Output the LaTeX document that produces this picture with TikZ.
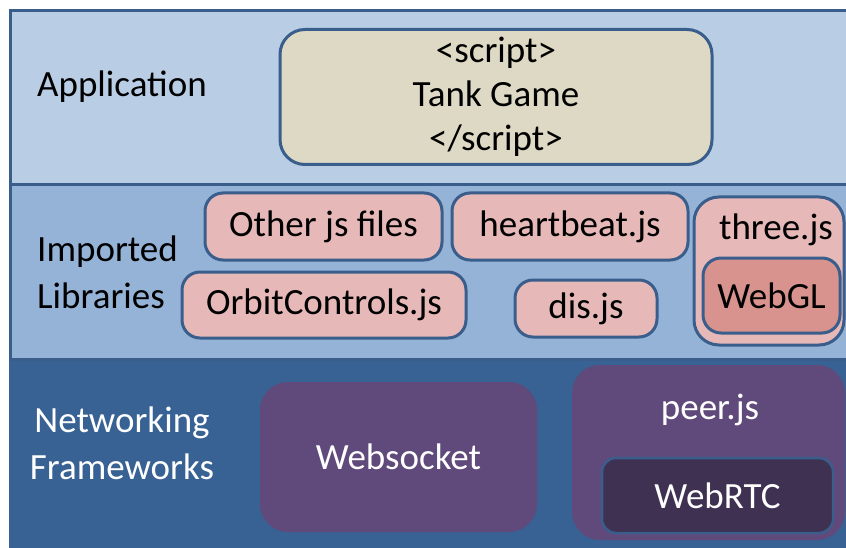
\documentclass[tikz,border=0pt]{standalone}
\usepackage{fontspec}
\setmainfont{Carlito}
\definecolor{bandtop}{HTML}{B9CDE5}
\definecolor{bandmid}{HTML}{95B3D7}
\definecolor{bandbot}{HTML}{386194}
\definecolor{edge}{HTML}{3A5E8C}
\definecolor{beige}{HTML}{DDD9C4}
\definecolor{pink}{HTML}{E6B9B8}
\definecolor{rose}{HTML}{D9938F}
\definecolor{violet}{HTML}{604A7B}
\definecolor{plum}{HTML}{3F3151}
\tikzset{
  band/.style={anchor=north west, inner sep=0pt, fill=#1},
  lbl/.style={align=center, font=\fontsize{37}{47}\selectfont},
  box/.style={rounded corners=18pt, draw=edge, line width=3pt, fill=#1,
    font=\fontsize{37}{43}\selectfont, align=center, inner sep=0pt},
  netbox/.style={rounded corners=28pt, fill=#1, text=white,
    font=\fontsize{37}{43}\selectfont, inner sep=0pt}
}
\begin{document}
\begin{tikzpicture}[x=1pt,y=-1pt]
\useasboundingbox (0,0) rectangle (846,548);
\clip (0,0) rectangle (846,548);
\fill[white] (0,0) rectangle (846,548);
\node[band=bandbot, minimum width=845pt, minimum height=195pt] (netband) at (9,356) {};
\node[band=bandmid, draw=edge, line width=3pt, minimum width=845pt, minimum height=175pt] (libband) at (9,183) {};
\node[band=bandtop, draw=edge, line width=3pt, minimum width=845pt, minimum height=174pt] (appband) at (9,9) {};
\node[lbl] (applbl) at (122,87) {Application};
\node[lbl, align=left, anchor=west, inner sep=0pt] (liblbl) at (37,272) {Imported\\Libraries};
\node[lbl, text=white] (netlbl) at (122,443) {Networking\\Frameworks};
\node[box=beige, rounded corners=25pt, minimum width=432pt, minimum height=135pt] (app) at (496,97)
  {<script>\\[1pt]Tank Game\\[1pt]</script>};
\node[box=pink, minimum width=237pt, minimum height=67pt] (other) at (323.5,226.5) {Other js files};
\node[box=pink, minimum width=236pt, minimum height=67pt] (heart) at (570,226.5) {heartbeat.js};
\node[box=pink, minimum width=284pt, minimum height=66pt] (orbit) at (324,305) {OrbitControls.js};
\node[box=pink, minimum width=142pt, minimum height=57pt] (dis) at (586,308.5) {dis.js};
\node[box=pink, rounded corners=25pt, minimum width=150pt, minimum height=148pt] (three) at (769,271) {};
\node[font=\fontsize{37}{43}\selectfont] (threelbl) at (776,230) {three.js};
\node[box=rose, minimum width=137pt, minimum height=75pt] (webgl) at (771.5,295.5) {WebGL};
\node[netbox=violet, minimum width=277pt, minimum height=150pt] (websock) at (398.5,457) {Websocket};
\node[netbox=violet, minimum width=273pt, minimum height=175pt] (peer) at (708.5,452.5) {};
\node[font=\fontsize{37}{43}\selectfont, text=white] (peerlbl) at (710,410) {peer.js};
\node[netbox=plum, rounded corners=14pt, draw=edge, line width=2.5pt, minimum width=231pt, minimum height=75pt] (webrtc) at (717.5,495.5) {WebRTC};
\end{tikzpicture}
\end{document}
